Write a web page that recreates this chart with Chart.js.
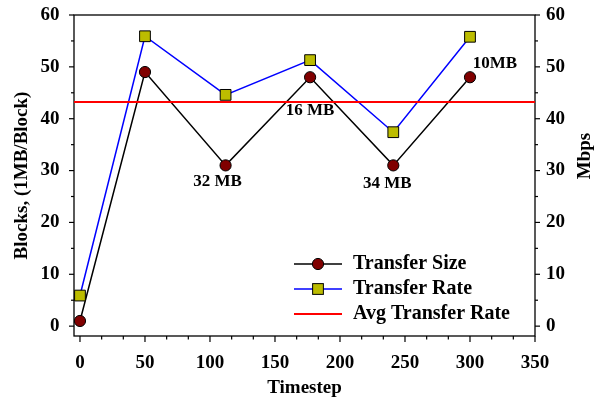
<!DOCTYPE html>
<html>
<head>
<meta charset="utf-8">
<script src="https://cdn.jsdelivr.net/npm/chart.js@4.4.0/dist/chart.umd.min.js"></script>
<style>
  html, body { margin: 0; padding: 0; background: #fff; }
  #wrap { width: 594px; height: 401px; }
</style>
</head>
<body>
<div id="wrap"><canvas id="chart" width="594" height="401"></canvas></div>
<script>
// values
const timesteps = [0, 50, 112, 177, 241, 300];
const transferSize = [1, 49, 31, 48, 31, 48];
const transferRate = [5.9, 55.9, 44.6, 51.3, 37.4, 55.8];
const avgTransferRate = 43.2;
const sizeLabels = ['', '', '32 MB', '16 MB', '34 MB', '10MB'];
const xTicks = [0, 50, 100, 150, 200, 250, 300, 350];
const yTicks = [0, 10, 20, 30, 40, 50, 60];
const xMin = -4.6, xMax = 350, yMin = -1.9, yMax = 60;

const FONT = '"Liberation Serif", "Times New Roman", serif';
Chart.defaults.font.family = FONT;
Chart.defaults.font.size = 19;
Chart.defaults.font.weight = 'bold';
Chart.defaults.color = '#000';

const setTicks = list => scale => { scale.ticks = list.map(v => ({ value: v })); };
const fixSize = (w, h) => scale => {
  if (w) scale.width = w;
  if (h) scale.height = h;
  scale.paddingTop = scale.paddingBottom = scale.paddingLeft = scale.paddingRight = 0;
};

// frame + minor/major tick marks (SigmaPlot style, pointing outwards)
const frameTicks = {
  id: 'frameTicks',
  beforeDatasetsDraw(chart) {
    const { ctx, chartArea: a } = chart;
    ctx.save();
    ctx.strokeStyle = '#000';
    ctx.lineWidth = 1.3;
    ctx.strokeRect(a.left, a.top, a.right - a.left, a.bottom - a.top);
    ctx.restore();
  },
  afterDraw(chart) {
    const { ctx, chartArea: a, scales: { x, y } } = chart;
    ctx.save();
    ctx.strokeStyle = '#000';
    ctx.lineWidth = 1.2;
    const line = (x1, y1, x2, y2) => { ctx.beginPath(); ctx.moveTo(x1, y1); ctx.lineTo(x2, y2); ctx.stroke(); };
    for (let i = 0; i <= 21; i++) {
      const px = x.getPixelForValue(i * 50 / 3);
      line(px, a.bottom, px, a.bottom + (i % 3 === 0 ? 6 : 3.5));
    }
    for (let v = 0; v <= yMax; v += 5) {
      const py = y.getPixelForValue(v);
      const len = v % 10 === 0 ? 5 : 3;
      line(a.left - len, py, a.left, py);
      line(a.right, py, a.right + len, py);
    }
    ctx.restore();
  }
};

// text next to the transfer size points
const sizeNotes = {
  id: 'sizeNotes',
  afterDatasetsDraw(chart) {
    const { ctx } = chart;
    const pts = chart.getDatasetMeta(0).data;
    const offs = { 2: [-8, 16], 3: [0, 33], 4: [-6, 18], 5: [25, -14] };
    ctx.save();
    ctx.font = 'bold 17px ' + FONT;
    ctx.fillStyle = '#000';
    ctx.textAlign = 'center';
    ctx.textBaseline = 'middle';
    sizeLabels.forEach((txt, i) => {
      if (!txt) return;
      const [dx, dy] = offs[i];
      ctx.fillText(txt, pts[i].x + dx, pts[i].y + dy);
    });
    ctx.restore();
  }
};

// legend inside plot + right axis title
const legendBox = {
  id: 'legendBox',
  afterDraw(chart) {
    const { ctx, chartArea: a } = chart;
    const x0 = a.left + 220, x1 = a.left + 268, xm = (x0 + x1) / 2, xt = a.left + 279;
    ctx.save();
    chart.data.datasets.forEach((ds, i) => {
      const yy = a.top + 249 + i * 25;
      ctx.strokeStyle = ds.borderColor;
      ctx.lineWidth = ds.borderWidth;
      ctx.beginPath(); ctx.moveTo(x0, yy); ctx.lineTo(x1, yy); ctx.stroke();
      ctx.fillStyle = ds.pointBackgroundColor;
      ctx.strokeStyle = '#000';
      ctx.lineWidth = 1;
      if (ds.pointStyle === 'circle') {
        ctx.beginPath(); ctx.arc(xm, yy, ds.pointRadius, 0, Math.PI * 2); ctx.fill(); ctx.stroke();
      } else if (ds.pointStyle === 'rect') {
        const h = ds.pointRadius * Math.SQRT1_2;
        ctx.fillRect(xm - h, yy - h, 2 * h, 2 * h); ctx.strokeRect(xm - h, yy - h, 2 * h, 2 * h);
      }
      ctx.fillStyle = '#000';
      ctx.font = 'bold 20px ' + FONT;
      ctx.textAlign = 'left';
      ctx.textBaseline = 'middle';
      ctx.fillText(ds.label, xt, yy);
    });
    // Mbps reads bottom-to-top like the left title
    ctx.font = 'bold 19px ' + FONT;
    ctx.translate(585, a.top + 141);
    ctx.rotate(-Math.PI / 2);
    ctx.textAlign = 'center';
    ctx.fillText('Mbps', 0, 0);
    ctx.restore();
  }
};

new Chart(document.getElementById('chart'), {
  type: 'line',
  data: {
    datasets: [{
      label: 'Transfer Size',
      data: timesteps.map((t, i) => ({ x: t, y: transferSize[i] })),
      borderColor: '#000000',
      borderWidth: 1.5,
      pointStyle: 'circle',
      pointRadius: 5.6,
      pointBackgroundColor: '#800000',
      pointBorderColor: '#000',
      pointBorderWidth: 1,
      yAxisID: 'y',
      order: 2
    }, {
      label: 'Transfer Rate',
      data: timesteps.map((t, i) => ({ x: t, y: transferRate[i] })),
      borderColor: '#0000ff',
      borderWidth: 1.5,
      pointStyle: 'rect',
      pointRadius: 7.6,
      pointBackgroundColor: '#bcbc00',
      pointBorderColor: '#000',
      pointBorderWidth: 1,
      yAxisID: 'y2',
      order: 1
    }, {
      label: 'Avg Transfer Rate',
      data: [{ x: xMin, y: avgTransferRate }, { x: xMax, y: avgTransferRate }],
      borderColor: '#ff0000',
      borderWidth: 2,
      pointRadius: 0,
      pointBackgroundColor: '#ff0000',
      yAxisID: 'y2',
      order: 0
    }]
  },
  options: {
    responsive: false,
    devicePixelRatio: 1,
    animation: false,
    layout: { padding: { top: 15, left: 0, right: 0, bottom: 0 } },
    plugins: {
      legend: { display: false },
      tooltip: { enabled: false }
    },
    scales: {
      x: {
        type: 'linear',
        min: xMin, max: xMax,
        afterBuildTicks: setTicks(xTicks),
        afterFit: fixSize(0, 65),
        grid: { display: false, drawTicks: false },
        border: { display: false },
        ticks: { padding: 16, autoSkip: false, maxRotation: 0 },
        title: { display: true, text: 'Timestep', padding: { top: 0, bottom: 2 } }
      },
      y: {
        position: 'left',
        min: yMin, max: yMax,
        afterBuildTicks: setTicks(yTicks),
        afterFit: fixSize(74, 0),
        grid: { display: false, drawTicks: false },
        border: { display: false },
        ticks: { padding: 14.5, autoSkip: false },
        title: { display: true, text: 'Blocks, (1MB/Block)', padding: { top: 11, bottom: 0 } }
      },
      y2: {
        position: 'right',
        min: yMin, max: yMax,
        afterBuildTicks: setTicks(yTicks),
        afterFit: fixSize(59, 0),
        grid: { display: false, drawTicks: false },
        border: { display: false },
        ticks: { padding: 11, autoSkip: false }
      }
    }
  },
  plugins: [frameTicks, sizeNotes, legendBox]
});
</script>
</body>
</html>
